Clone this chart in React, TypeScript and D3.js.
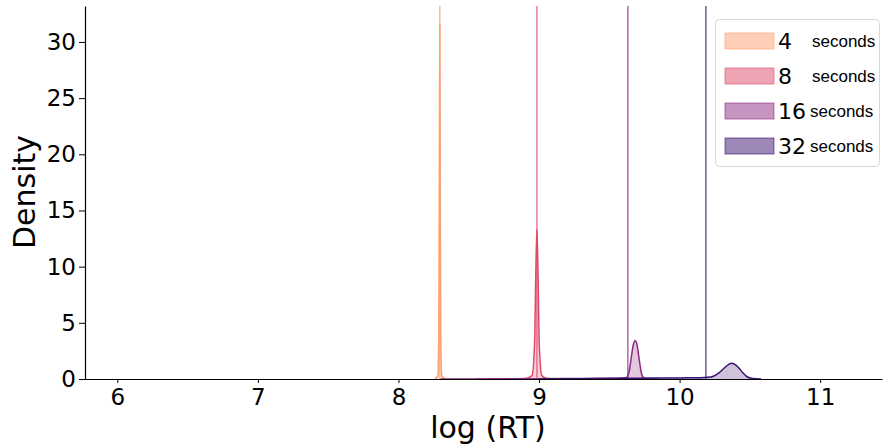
import React from "react";
import * as d3 from "d3";

// timeout groups
const durations = ["4", "8", "16", "32"];
const colors = ["#fe9f6d", "#de4968", "#8c2981", "#3b0f70"];
// vertical reference lines (log RT of each cutoff)
const cutoffs = [8.294, 8.985, 9.632, 10.187];

// KDE curves: [log RT, density]
const density4 = [
  [8.26, 0], [8.28, 0.3], [8.287, 4], [8.291, 18], [8.294, 31.6],
  [8.297, 18], [8.301, 4], [8.308, 0.3], [8.33, 0],
];
const density8 = [
  [8.55, 0], [8.75, 0.02], [8.9, 0.05], [8.95, 0.3], [8.968, 3], [8.978, 10],
  [8.985, 13.3], [8.992, 10], [9.002, 3], [9.02, 0.3], [9.06, 0.05], [9.2, 0.01], [9.4, 0],
];
const density16 = [
  [8.3, 0], [8.6, 0.01], [9.0, 0.03], [9.3, 0.05], [9.5, 0.07], [9.6, 0.1],
  [9.62, 0.12], [9.64, 0.6], [9.655, 1.8], [9.67, 3.0], [9.684, 3.4], [9.698, 3.0],
  [9.712, 1.8], [9.727, 0.6], [9.745, 0.1], [9.78, 0.01], [9.85, 0],
];
const density32 = [
  [9.0, 0], [9.2, 0.02], [9.4, 0.04], [9.6, 0.06], [9.8, 0.08], [10.0, 0.1],
  [10.15, 0.12], [10.2, 0.15], [10.24, 0.25], [10.28, 0.55], [10.32, 1.0],
  [10.35, 1.3], [10.37, 1.4], [10.39, 1.32], [10.42, 1.0], [10.45, 0.55],
  [10.48, 0.2], [10.52, 0.05], [10.58, 0],
];
const densities = [density4, density8, density16, density32];

const xTicks = [6, 7, 8, 9, 10, 11];
const yTicks = [0, 5, 10, 15, 20, 25, 30];

const App = () => {
  const width = 883;
  const height = 448;
  const margin = { top: 6, right: 1, bottom: 69, left: 85 };
  const svgRef = React.useRef(null);

  React.useEffect(() => {
    const innerW = width - margin.left - margin.right;
    const innerH = height - margin.top - margin.bottom;

    const xScale = d3.scaleLinear().domain([5.77, 11.44]).range([0, innerW]);
    const yScale = d3.scaleLinear().domain([0, 33.2]).range([innerH, 0]);

    const svgEl = d3.select(svgRef.current);
    svgEl.selectAll("*").remove();

    const svg = svgEl
      .append("g")
      .attr("transform", `translate(${margin.left},${margin.top})`);

    svg
      .append("defs")
      .append("clipPath")
      .attr("id", "clip")
      .append("rect")
      .attr("width", innerW)
      .attr("height", innerH);

    const area = d3
      .area()
      .x((d) => xScale(d[0]))
      .y0(yScale(0))
      .y1((d) => yScale(d[1]))
      .curve(d3.curveMonotoneX);

    const line = d3
      .line()
      .x((d) => xScale(d[0]))
      .y((d) => yScale(d[1]))
      .curve(d3.curveMonotoneX);

    const plot = svg.append("g").attr("clip-path", "url(#clip)");

    // cutoff lines
    cutoffs.forEach((c, i) => {
      plot
        .append("line")
        .attr("x1", xScale(c))
        .attr("x2", xScale(c))
        .attr("y1", 0)
        .attr("y2", innerH)
        .attr("stroke", colors[i])
        .attr("stroke-opacity", 0.7)
        .attr("stroke-width", 1.5);
    });

    // densities
    densities.forEach((data, i) => {
      plot
        .append("path")
        .datum(data)
        .attr("fill", colors[i])
        .attr("fill-opacity", 0.25)
        .attr("d", area);
      plot
        .append("path")
        .datum(data)
        .attr("fill", "none")
        .attr("stroke", colors[i])
        .attr("stroke-width", 1.5)
        .attr("d", line);
    });

    // axes
    const xAxis = svg
      .append("g")
      .attr("transform", `translate(0,${innerH})`)
      .call(
        d3.axisBottom(xScale).tickValues(xTicks).tickFormat(d3.format("d"))
          .tickSize(4).tickPadding(6).tickSizeOuter(0)
      );
    const yAxis = svg
      .append("g")
      .call(
        d3.axisLeft(yScale).tickValues(yTicks).tickFormat(d3.format("d"))
          .tickSize(6).tickPadding(3).tickSizeOuter(0)
      );

    [xAxis, yAxis].forEach((ax) => {
      ax.selectAll("text")
        .attr("font-family", "DejaVu Sans")
        .attr("font-size", 23)
        .attr("fill", "#000");
      ax.selectAll("line").attr("stroke", "#000").attr("stroke-width", 1);
      ax.select(".domain").attr("stroke", "#000").attr("stroke-width", 1.2);
    });

    // axis titles
    svgEl
      .append("text")
      .attr("x", 488)
      .attr("y", 438)
      .attr("text-anchor", "middle")
      .attr("font-family", "DejaVu Sans")
      .attr("font-size", 30)
      .text("log (RT)");

    svgEl
      .append("text")
      .attr("transform", "translate(35,192) rotate(-90)")
      .attr("text-anchor", "middle")
      .attr("font-family", "DejaVu Sans")
      .attr("font-size", 30)
      .text("Density");

    // legend
    const legend = svgEl.append("g");
    legend
      .append("rect")
      .attr("x", 715.5)
      .attr("y", 19.5)
      .attr("width", 164)
      .attr("height", 147)
      .attr("rx", 4)
      .attr("fill", "#fff")
      .attr("fill-opacity", 0.8)
      .attr("stroke", "#d6d6d6");

    durations.forEach((label, i) => {
      const cy = 41 + i * 35;
      legend
        .append("rect")
        .attr("x", 725)
        .attr("y", cy - 8)
        .attr("width", 49)
        .attr("height", 16)
        .attr("fill", colors[i])
        .attr("fill-opacity", 0.5)
        .attr("stroke", colors[i])
        .attr("stroke-opacity", 0.6);
      legend
        .append("text")
        .attr("x", 778)
        .attr("y", cy + 8)
        .attr("font-family", "DejaVu Sans")
        .attr("font-size", 22)
        .text(label);
      legend
        .append("text")
        .attr("x", label.length > 1 ? 810 : 812)
        .attr("y", cy + 6)
        .attr("font-family", "Liberation Sans")
        .attr("font-size", 17)
        .text("seconds");
    });
  }, []);

  return (
    <svg
      ref={svgRef}
      width={width}
      height={height}
      style={{ position: "absolute", left: 0, top: 0, background: "#fff" }}
    />
  );
};

export default App;
